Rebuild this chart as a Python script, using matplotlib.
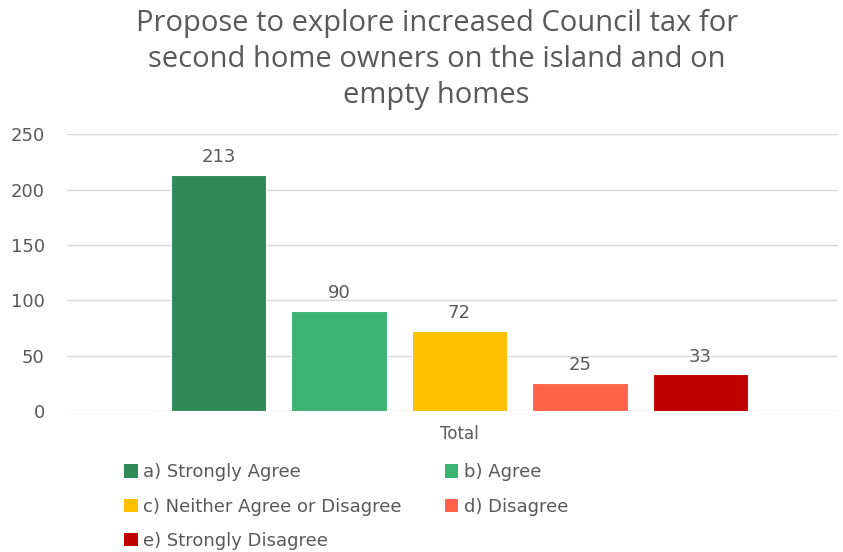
import matplotlib as mpl
mpl.use('Agg')
import matplotlib.pyplot as plt
from matplotlib.patches import Patch

labels = ["a) Strongly Agree", "b) Agree", "c) Neither Agree or Disagree",
          "d) Disagree", "e) Strongly Disagree"]
values = [213, 90, 72, 25, 33]
colors = ["#2E8B57", "#3CB371", "#FFC000", "#FF6347", "#C00000"]
category = "Total"
yticks = [0, 50, 100, 150, 200, 250]

grey = "#595959"

fig = plt.figure(figsize=(8.43, 5.52), dpi=100)
ax = fig.add_axes([0.0795, 0.2554, 0.9145, 0.5016])

x = list(range(len(values)))
bars = ax.bar(x, values, width=0.79, color=colors, edgecolor="white", linewidth=0.8, zorder=3)
for xi, v in zip(x, values):
    ax.text(xi, v + 8, str(v), ha="center", va="bottom", fontsize=13,
            color=grey, family="DejaVu Sans")

ax.set_xlim(-1.257, 5.141)
ax.set_ylim(0, 250)
ax.set_yticks(yticks)
ax.set_yticklabels([str(t) for t in yticks], fontsize=13, color=grey, family="DejaVu Sans")
ax.tick_params(axis="y", length=0, pad=16)
ax.set_xticks([2])
ax.set_xticklabels([category], fontsize=12, color=grey, family="DejaVu Sans")
ax.tick_params(axis="x", length=0, pad=10)
ax.grid(axis="y", color="#D9D9D9", linewidth=1, zorder=0)
for s in ax.spines.values():
    s.set_visible(False)

fig.text(0.518, 0.983, "Propose to explore increased Council tax for\nsecond home owners on the island and on\nempty homes",
         ha="center", va="top", fontsize=21, color=grey, family="Open Sans", linespacing=1.3)

# legend fills column-wise, so reorder to read a,b / c,d / e across rows
order = [0, 2, 4, 1, 3]
handles = [Patch(facecolor=colors[i], label=labels[i]) for i in order]
fig.legend(handles=handles, loc="upper left", bbox_to_anchor=(0.128, 0.19), ncol=2,
           frameon=False, labelcolor=grey, handlelength=0.75, handleheight=0.75,
           handletextpad=0.3, columnspacing=2.4, labelspacing=0.9,
           prop={"family": "DejaVu Sans", "size": 13})

fig.savefig("out.png", dpi=100, facecolor="white")
